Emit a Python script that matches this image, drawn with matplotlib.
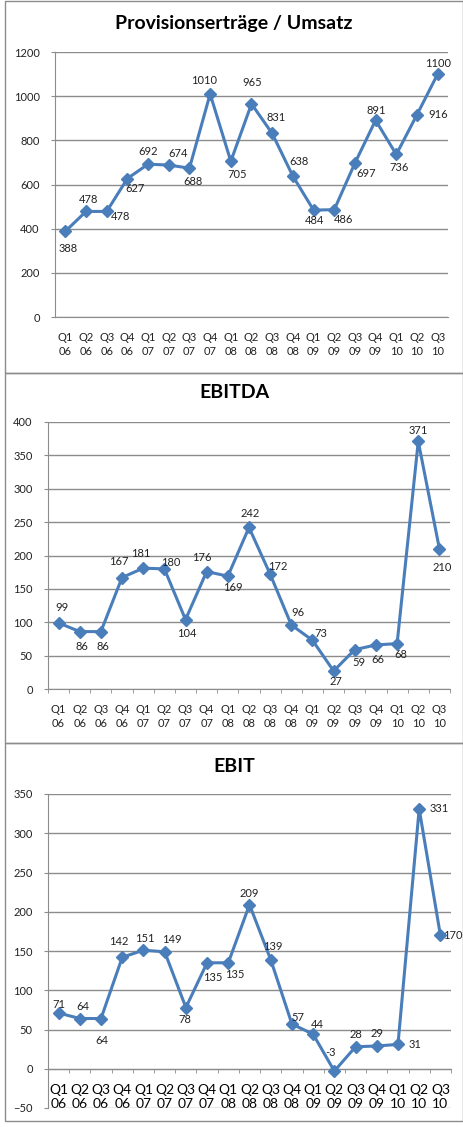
import matplotlib.pyplot as plt
from matplotlib.patches import Rectangle
from matplotlib.ticker import MultipleLocator

plt.rcParams['font.family'] = ['Lato', 'DejaVu Sans']

quarters = ['Q1\n06', 'Q2\n06', 'Q3\n06', 'Q4\n06', 'Q1\n07', 'Q2\n07', 'Q3\n07',
            'Q4\n07', 'Q1\n08', 'Q2\n08', 'Q3\n08', 'Q4\n08', 'Q1\n09', 'Q2\n09',
            'Q3\n09', 'Q4\n09', 'Q1\n10', 'Q2\n10', 'Q3\n10']

provision = [388, 478, 478, 627, 692, 688, 674, 1010, 705, 965, 831, 638,
             484, 486, 697, 891, 736, 916, 1100]
ebitda = [99, 86, 86, 167, 181, 180, 104, 176, 169, 242, 172, 96,
          73, 27, 59, 66, 68, 371, 210]
ebit = [71, 64, 64, 142, 151, 149, 78, 135, 135, 209, 139, 57,
        44, -3, 28, 29, 31, 331, 170]

titles = ['Provisionserträge / Umsatz', 'EBITDA', 'EBIT']

# label offsets in pixels (dx, dy with y pointing down), as placed in the original
off1 = [(3, 17), (2, -12), (14, 5), (8, 10), (0, -13), (24, 16), (-11, -15),
        (-6, -13), (6, 13), (1, -21), (4, -16), (6, -15), (1, 10), (9, 10),
        (11, 10), (1, -10), (3, 13), (21, 0), (0, -11)]
off2 = [(3, -15), (2, 15), (2, 15), (-3, -16), (-2, -15), (6, -6), (1, 14),
        (-5, -14), (5, 11), (1, -14), (8, -8), (7, -12), (8, -7), (2, 11),
        (4, 13), (2, 15), (4, 11), (0, -11), (3, 19)]
off3 = [(0, -9), (3, -12), (1, 22), (-3, -16), (1, -12), (7, -12), (-1, 12),
        (6, 15), (6, 12), (0, -11), (2, -13), (6, -7), (4, -10), (-4, -19),
        (0, -12), (0, -12), (17, 0), (20, 0), (12, 0)]

W, H = 464, 1127
blue = '#4A7EBB'
grid = '#8C8C8C'
txt = '#222222'

fig = plt.figure(figsize=(W / 100, H / 100), dpi=100)
fig.patch.set_facecolor('white')

def px_rect(x0, x1, yt, yb):
    return [x0 / W, 1 - yb / H, (x1 - x0) / W, (yb - yt) / H]

# chart frames
for yt, yb in [(1, 373), (373, 743), (743, 1121)]:
    fig.add_artist(Rectangle((5 / W, 1 - yb / H), 458 / W, (yb - yt) / H,
                             transform=fig.transFigure, fill=False,
                             edgecolor='#8C8C8C', lw=1))

panels = [
    (provision, off1, (55, 448, 52, 317), (0, 1200), 200, 24, False),
    (ebitda, off2, (48, 450, 422, 689), (0, 400), 50, 393, True),
    (ebit, off3, (48, 451, 794, 1108), (-50, 350), 50, 766, True),
]

x = list(range(len(quarters)))
for k, (vals, offs, rect, ylim, step, ty, ticks) in enumerate(panels):
    ax = fig.add_axes(px_rect(*rect))
    ax.plot(x, vals, color=blue, lw=2.2, marker='D', markersize=6.5,
            markerfacecolor=blue, markeredgecolor=blue, zorder=3)
    ax.set_xlim(-0.5, len(quarters) - 0.5)
    ax.set_ylim(*ylim)
    ax.yaxis.set_major_locator(MultipleLocator(step))
    ax.grid(axis='y', color=grid, lw=1)
    ax.set_axisbelow(True)
    ax.set_xticks(x)
    ax.set_xticklabels(quarters, fontsize=8, color=txt, linespacing=1.25)
    ax.set_xticks([i - 0.5 for i in range(len(quarters) + 1)], minor=True)
    ax.tick_params(axis='x', which='major', length=0, pad=11)
    ax.tick_params(axis='x', which='minor', length=3 if ticks else 0,
                   color=grid, direction='out')
    ax.tick_params(axis='y', labelsize=8, labelcolor=txt, length=3,
                   color=grid, pad=8)
    for s in ['top', 'right']:
        ax.spines[s].set_visible(False)
    ax.spines['left'].set_color(grid)
    ax.spines['bottom'].set_color(grid)
    if ylim[0] < 0:
        ax.spines['bottom'].set_position(('data', 0))
    for i, v in enumerate(vals):
        dx, dy = offs[i]
        ax.annotate(str(v), (i, v), xytext=(dx, -dy), textcoords='offset pixels',
                    ha='center', va='center', fontsize=8, color=txt)
    fig.text(234 / W, 1 - ty / H, titles[k], ha='center', va='center',
             fontsize=14, fontweight='bold', color='black')

fig.savefig('out.png', dpi=100)
